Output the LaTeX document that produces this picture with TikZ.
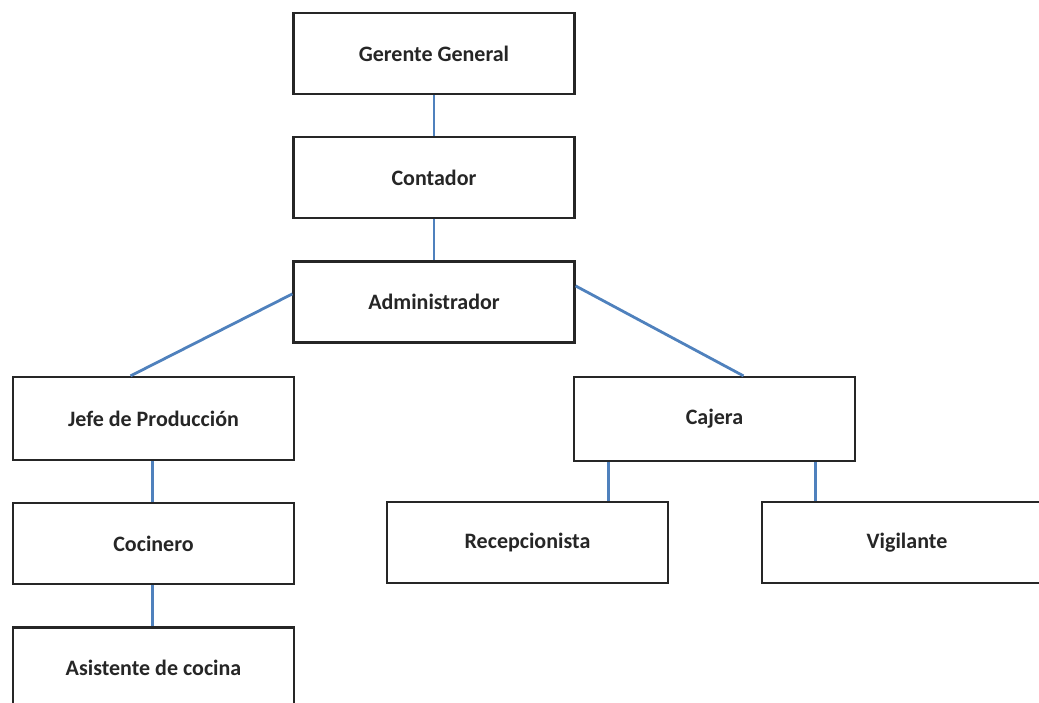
\documentclass[tikz,border=0pt]{standalone}
\usepackage{fontspec}
\setmainfont{Carlito}
\usetikzlibrary{positioning}

\definecolor{linkblue}{RGB}{79,129,189}

\begin{document}
\begin{tikzpicture}[
  x=1pt, y=1pt,
  node distance=41pt,
  post/.style={draw=black!85, line width=2.2pt, fill=white, minimum width=281pt, minimum height=81pt,
    inner sep=0pt, text=black!85, font=\bfseries\fontsize{22}{26}\selectfont},
  link/.style={draw=linkblue, line width=2.8pt}
]
\useasboundingbox (0,0) rectangle (1039,-702);
\clip (0,0) rectangle (1039,-702);

% top of the chart
\node[post] (ger) at (434,-53.5) {Gerente General};
\node[post, below=of ger] (cont) {Contador};
\node[post, below=of cont] (admin) {Administrador};

% production side
\node[post, minimum height=83pt] (jefe) at (153.5,-418.5) {Jefe de Producción};
\node[post, below=of jefe] (coc) {Cocinero};
\node[post, below=of coc] (asis) {Asistente de cocina};

% cash side
\node[post, minimum height=84pt] (caj) at (714.5,-419) {Cajera};
\node[post] (recep) at (527.5,-542.5) {Recepcionista};
\node[post, minimum width=290pt] (vig) at (907,-542.5) {Vigilante};

\draw[link] (ger) -- (cont);
\draw[link] (cont) -- (admin);
\draw[link] ([yshift=8pt]admin.west) -- ([xshift=-23pt]jefe.north);
\draw[link] ([yshift=16pt]admin.east) -- ([xshift=29pt]caj.north);
\draw[link] ([xshift=-1pt]jefe.south) -- ([xshift=-1pt]coc.north);
\draw[link] ([xshift=-1pt]coc.south) -- ([xshift=-1pt]asis.north);
\draw[link] ([xshift=-106pt]caj.south) -- ([xshift=-106pt]caj.south |- recep.north);
\draw[link] ([xshift=101pt]caj.south) -- ([xshift=101pt]caj.south |- vig.north);

\end{tikzpicture}
\end{document}
